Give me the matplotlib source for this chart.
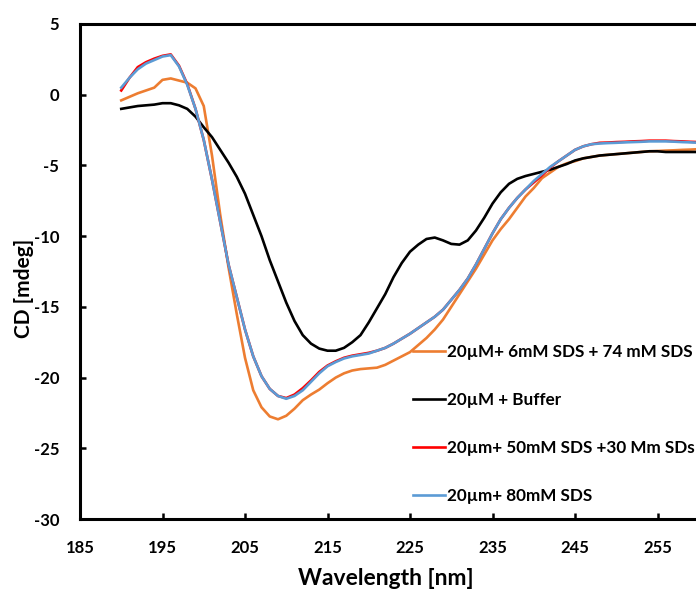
import numpy as np
import matplotlib
matplotlib.use("Agg")
import matplotlib.pyplot as plt

plt.rcParams['font.family'] = ['Lato', 'DejaVu Sans']
plt.rcParams['font.weight'] = 'bold'
plt.rcParams['axes.unicode_minus'] = False

# wavelength grid (nm), one reading per nm
wavelength = np.arange(190, 261)

cd_sds_6_74 = [
    -0.4, -0.15, 0.1, 0.3, 0.5, 1.05, 1.15, 1.0, 0.85, 0.45,
    -0.8, -4.3, -8.5, -12.2, -15.5, -18.6, -20.9, -22.1, -22.75, -22.95,
    -22.7, -22.2, -21.6, -21.2, -20.85, -20.4, -20.0, -19.7, -19.5, -19.4,
    -19.35, -19.3, -19.1, -18.8, -18.5, -18.2, -17.7, -17.2, -16.6, -15.9,
    -15.0, -14.1, -13.2, -12.3, -11.3, -10.3, -9.5, -8.8, -8.0, -7.2,
    -6.6, -5.9, -5.5, -5.1, -4.85, -4.7, -4.5, -4.4, -4.3, -4.25,
    -4.2, -4.15, -4.1, -4.05, -4.0, -3.98, -3.95, -3.93, -3.9, -3.88, -3.85,
]
cd_buffer = [
    -1.0, -0.9, -0.8, -0.75, -0.7, -0.6, -0.6, -0.75, -1.0, -1.55,
    -2.3, -3.0, -3.9, -4.8, -5.8, -7.0, -8.5, -10.0, -11.7, -13.2,
    -14.7, -16.0, -17.0, -17.6, -17.95, -18.1, -18.1, -17.9, -17.5, -17.0,
    -16.1, -15.1, -14.1, -12.9, -11.9, -11.1, -10.6, -10.2, -10.1, -10.3,
    -10.55, -10.6, -10.3, -9.6, -8.7, -7.7, -6.9, -6.3, -5.95, -5.75,
    -5.6, -5.45, -5.3, -5.1, -4.9, -4.65, -4.5, -4.4, -4.3, -4.25,
    -4.2, -4.15, -4.1, -4.05, -4.0, -4.0, -4.05, -4.05, -4.05, -4.05, -4.05,
]
cd_sds_50_30 = [
    0.3, 1.2, 1.95, 2.3, 2.55, 2.75, 2.85, 2.05, 0.75, -1.0,
    -3.2, -6.0, -9.0, -12.0, -14.3, -16.6, -18.5, -19.9, -20.8, -21.3,
    -21.45, -21.2, -20.75, -20.2, -19.6, -19.15, -18.85, -18.6, -18.45, -18.35,
    -18.25, -18.1, -17.9, -17.6, -17.25, -16.9, -16.5, -16.1, -15.7, -15.2,
    -14.5, -13.8, -13.0, -12.0, -10.9, -9.8, -8.8, -8.0, -7.3, -6.7,
    -6.2, -5.7, -5.15, -4.7, -4.3, -3.9, -3.65, -3.5, -3.4, -3.38,
    -3.35, -3.33, -3.3, -3.28, -3.25, -3.25, -3.25, -3.28, -3.3, -3.33, -3.35,
]
cd_sds_80 = [
    0.5, 1.2, 1.8, 2.2, 2.45, 2.7, 2.8, 2.0, 0.7, -1.0,
    -3.2, -6.0, -9.0, -12.0, -14.3, -16.6, -18.5, -19.9, -20.8, -21.3,
    -21.5, -21.3, -20.9, -20.3, -19.7, -19.2, -18.9, -18.65, -18.5, -18.4,
    -18.3, -18.1, -17.9, -17.6, -17.25, -16.9, -16.5, -16.1, -15.7, -15.2,
    -14.5, -13.8, -13.0, -12.0, -10.9, -9.8, -8.8, -8.0, -7.3, -6.7,
    -6.1, -5.6, -5.1, -4.7, -4.3, -3.9, -3.65, -3.5, -3.45, -3.42,
    -3.4, -3.37, -3.35, -3.33, -3.3, -3.3, -3.3, -3.32, -3.35, -3.37, -3.4,
]

labels = [
    "20\u00b5M+ 6mM SDS + 74 mM SDS",
    "20\u00b5M + Buffer",
    "20\u00b5m+ 50mM SDS +30 Mm SDs",
    "20\u00b5m+ 80mM SDS",
]
colors = ["#ED7D31", "#000000", "#FF0000", "#5B9BD5"]
series = [cd_sds_6_74, cd_buffer, cd_sds_50_30, cd_sds_80]

xticks = np.arange(185, 265, 10)
yticks = np.arange(-30, 6, 5)

fig = plt.figure(figsize=(6.96, 5.92), dpi=100)
# axes runs past the right edge, like the cropped original
ax = fig.add_axes([80 / 696, 73 / 592, 660 / 696, 495 / 592])

for vals, col, lab in zip(series, colors, labels):
    ax.plot(wavelength, vals, color=col, linewidth=1.9, label=lab)

ax.set_xlim(185, 265)
ax.set_ylim(-30, 5)
ax.set_xticks(xticks)
ax.set_yticks(yticks)
ax.tick_params(direction="in", length=4, width=1.8, labelsize=12)
ax.tick_params(axis="x", pad=15)
ax.tick_params(axis="y", pad=15)
for lbl in ax.get_xticklabels() + ax.get_yticklabels():
    lbl.set_fontweight("bold")
for side in ["left", "bottom", "top", "right"]:
    ax.spines[side].set_linewidth(2.2)

ax.set_xlabel("Wavelength [nm]", fontsize=16.5, fontweight="bold")
ax.xaxis.set_label_coords(0.4636, -0.098)
ax.set_ylabel("CD [mdeg]", fontsize=15, fontweight="bold")
ax.yaxis.set_label_coords(-0.07, 0.465)

ax.legend(loc="upper left", bbox_to_anchor=(0.5045, 0.3535), frameon=False,
          handlelength=1.9, handletextpad=0.12,
          labelspacing=1.88, borderpad=0, borderaxespad=0,
          prop={"weight": "bold", "size": 12.3})

fig.savefig("out.png", dpi=100)
